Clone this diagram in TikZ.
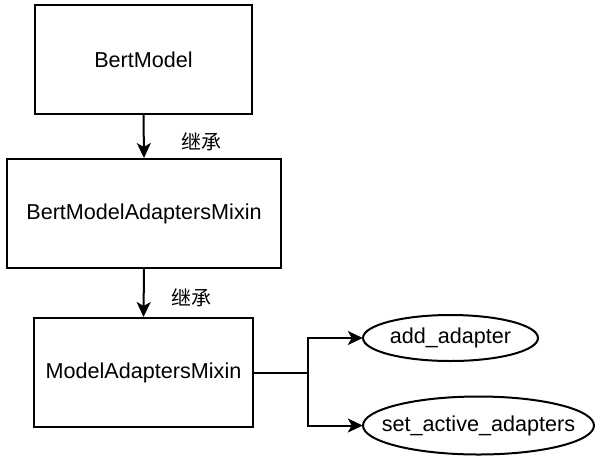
\documentclass[tikz,border=0pt]{standalone}
\usepackage{fontspec}
\setmainfont{Liberation Sans}
\newfontfamily\cjk{Noto Sans CJK SC}
\usetikzlibrary{arrows.meta}
\begin{document}
\begin{tikzpicture}[x=1pt,y=-1pt,
  box/.style={draw,line width=2pt,inner sep=0pt,font=\fontsize{21.6}{24}\selectfont},
  ovaltext/.style={inner sep=0pt,font=\fontsize{21.6}{24}\selectfont},
  ovalline/.style={line width=2pt},
  conn/.style={line width=2pt,-{Stealth[length=15pt,width=14pt,inset=4pt]}},
  lbl/.style={font=\cjk\fontsize{20}{24}\selectfont}]
\useasboundingbox (0,0) rectangle (598,459);
\node[box,minimum width=217pt,minimum height=109pt] (bm) at (143.5,59.5) {BertModel};
\node[box,minimum width=274pt,minimum height=109pt] (bma) at (144,213.5) {BertModelAdaptersMixin};
\node[box,minimum width=219pt,minimum height=109pt] (ma) at (143.5,372.5) {ModelAdaptersMixin};
\node[ovaltext,minimum width=175pt,minimum height=46pt] (add) at (450.5,338) {add\_adapter};
\node[ovaltext,minimum width=231pt,minimum height=58pt] (set) at (478.5,425.5) {set\_active\_adapters};
\draw[ovalline] (add.center) ellipse [x radius=87.5pt, y radius=23pt];
\draw[ovalline] (set.center) ellipse [x radius=115.5pt, y radius=29pt];
\coordinate (j) at (308,372.5);
\draw[conn] (bm.south) -- (bma.north);
\draw[conn] (bma.south) -- (ma.north);
\node[lbl] (l1) at (201,142) {继承};
\node[lbl] (l2) at (191,298) {继承};
\draw[line width=2pt] (ma.east) -- (j);
\draw[conn] (j) |- (add.west);
\draw[conn] (j) |- (set.west);
\end{tikzpicture}
\end{document}
